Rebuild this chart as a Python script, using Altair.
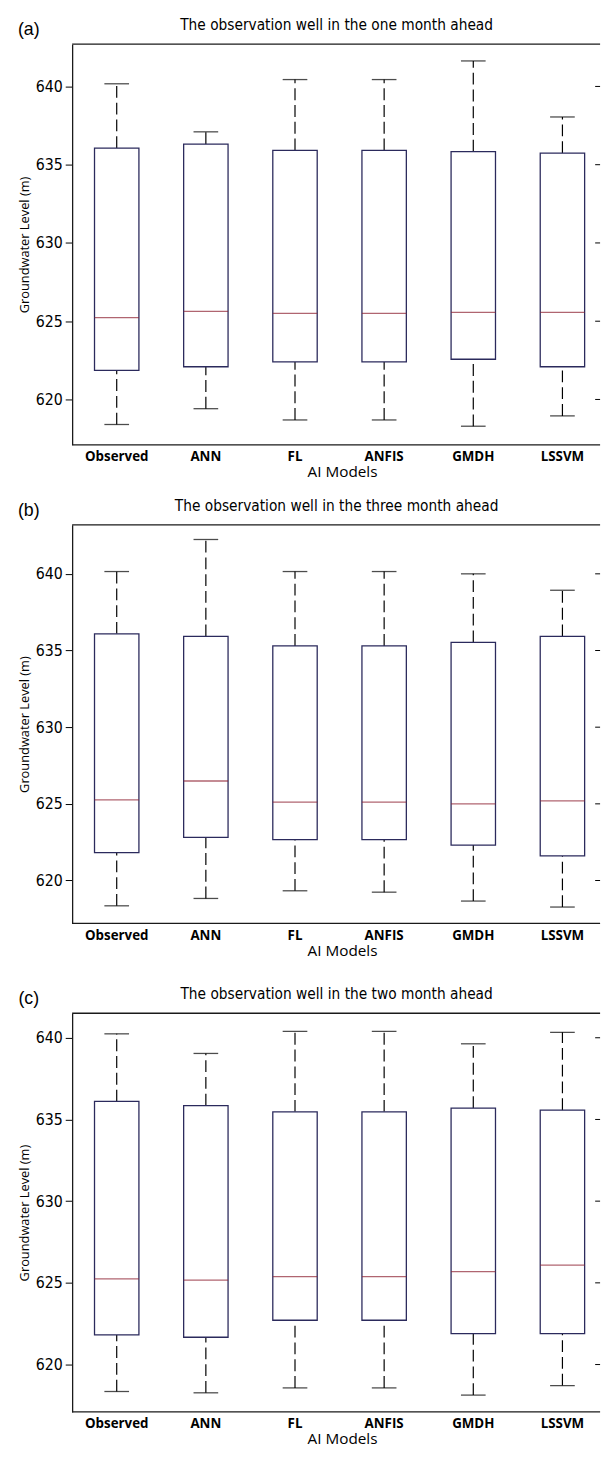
import altair as alt
import pandas as pd

models = ["Observed", "ANN", "FL", "ANFIS", "GMDH", "LSSVM"]
tick_values = [620, 625, 630, 635, 640]

# (a) one month ahead
a_lower = [618.40, 619.41, 618.69, 618.69, 618.29, 618.95]
a_q1 = [621.86, 622.09, 622.40, 622.40, 622.57, 622.09]
a_med = [625.23, 625.63, 625.50, 625.50, 625.57, 625.57]
a_q3 = [636.06, 636.31, 635.91, 635.91, 635.83, 635.74]
a_upper = [640.17, 637.10, 640.44, 640.44, 641.63, 638.05]

# (b) three month ahead
b_lower = [618.35, 618.83, 619.33, 619.24, 618.66, 618.27]
b_q1 = [621.82, 622.81, 622.66, 622.66, 622.31, 621.60]
b_med = [625.26, 626.49, 625.11, 625.11, 625.00, 625.20]
b_q3 = [636.09, 635.92, 635.30, 635.30, 635.53, 635.92]
b_upper = [640.15, 642.24, 640.15, 640.15, 640.00, 638.93]

# (c) two month ahead
c_lower = [618.35, 618.27, 618.57, 618.57, 618.13, 618.71]
c_q1 = [621.81, 621.67, 622.71, 622.71, 621.89, 621.89]
c_med = [625.24, 625.16, 625.38, 625.38, 625.69, 626.09]
c_q3 = [636.10, 635.85, 635.47, 635.47, 635.69, 635.57]
c_upper = [640.24, 639.04, 640.39, 640.39, 639.63, 640.33]

NAVY = "#2b2a5c"
RED = "#8e2433"
FRAME = "#1a1a1a"
W = 535          # visible plot width (frame continues past the page edge)
XR = 542         # full band range of the category axis
NARROW = "Liberation Sans Narrow, DejaVu Sans Condensed, sans-serif"


def panel(title, tag, lower, q1, med, q3, upper, ymin, ymax, h):
    df = pd.DataFrame({"model": models, "lower": lower, "q1": q1,
                       "med": med, "q3": q3, "upper": upper})
    base = alt.Chart(df)
    yscale = alt.Scale(domain=[ymin, ymax], nice=False, zero=False)
    yaxis = alt.Axis(values=tick_values, tickSize=7, labelPadding=3,
                     labelFont=NARROW, labelFontSize=16, labelColor="black",
                     tickColor="black", domain=True, domainColor=FRAME,
                     domainWidth=1.3, grid=False,
                     minExtent=38, maxExtent=38,
                     titleFont="Open Sans", titleFontSize=13,
                     titleFontWeight="normal", titleColor="black",
                     titlePadding=3)
    xaxis = alt.Axis(labelAngle=0, ticks=False, domain=False,
                     labelFont="Open Sans", labelFontWeight="bold",
                     labelFontSize=13.5, labelColor="black", labelPadding=5,
                     titleFont="Open Sans", titleFontSize=15.5,
                     titleFontWeight="normal", titleColor="black",
                     titlePadding=2, titleX=W / 2 + 6)
    xenc = alt.X("model:N", sort=models, title="AI Models", axis=xaxis,
                 scale=alt.Scale(type="band", paddingInner=0, paddingOuter=0,
                                 range=[0, XR]))

    def Y(f):
        return alt.Y(f, scale=yscale, axis=yaxis, title="Groundwater Level (m)")

    wh_up = base.mark_rule(color="black", strokeWidth=1.2,
                           strokeDash=[12, 5]).encode(x=xenc, y=Y("q3:Q"), y2="upper:Q")
    wh_lo = base.mark_rule(color="black", strokeWidth=1.2,
                           strokeDash=[12, 5]).encode(x=xenc, y=Y("lower:Q"), y2="q1:Q")
    box = base.mark_bar(size=45, fill="white", stroke=NAVY,
                        strokeWidth=1.3).encode(x=xenc, y=Y("q1:Q"), y2="q3:Q")
    median = base.mark_tick(size=45, thickness=1.3, color=RED).encode(x=xenc, y=Y("med:Q"))
    cap_up = base.mark_tick(size=25, thickness=1.3, color="black").encode(x=xenc, y=Y("upper:Q"))
    cap_lo = base.mark_tick(size=25, thickness=1.3, color="black").encode(x=xenc, y=Y("lower:Q"))
    rticks = alt.Chart(pd.DataFrame({"v": tick_values})).mark_rule(
        color="black", strokeWidth=1).encode(
        x=alt.value(W - 5), x2=alt.value(W), y=Y("v:Q"))
    topline = alt.Chart(pd.DataFrame({"t": [0]})).mark_rule(
        color=FRAME, strokeWidth=1.3).encode(
        x=alt.value(0), x2=alt.value(W), y=alt.value(0))
    botline = alt.Chart(pd.DataFrame({"t": [0]})).mark_rule(
        color=FRAME, strokeWidth=1.3).encode(
        x=alt.value(0), x2=alt.value(W), y=alt.value(h))
    tagm = alt.Chart(pd.DataFrame({"t": [tag]})).mark_text(
        font="Liberation Sans", fontSize=18, align="center", baseline="middle",
        color="black").encode(x=alt.value(-44), y=alt.value(-14), text="t:N")
    titm = alt.Chart(pd.DataFrame({"t": [title]})).mark_text(
        font=NARROW, fontSize=15.5, align="center", baseline="middle",
        color="black").encode(x=alt.value(268), y=alt.value(-19), text="t:N")

    return alt.layer(wh_up, wh_lo, box, median, cap_up, cap_lo, rticks,
                     topline, botline, tagm, titm).properties(width=W, height=h)


pa = panel("The observation well in the one month ahead", "(a)",
           a_lower, a_q1, a_med, a_q3, a_upper, 617.1, 642.7, 406)
pb = panel("The observation well in the three month ahead", "(b)",
           b_lower, b_q1, b_med, b_q3, b_upper, 617.2, 643.2, 404)
pc = panel("The observation well in the two month ahead", "(c)",
           c_lower, c_q1, c_med, c_q3, c_upper, 617.1, 641.5, 404)

chart = alt.vconcat(alt.vconcat(pa, pb, spacing=19), pc, spacing=29).properties(
    padding={"left": 10, "top": 1, "right": 0, "bottom": 0},
    background="white",
).configure_view(stroke=None)

chart.save("out.html", embed_options={"renderer": "svg", "actions": False})
